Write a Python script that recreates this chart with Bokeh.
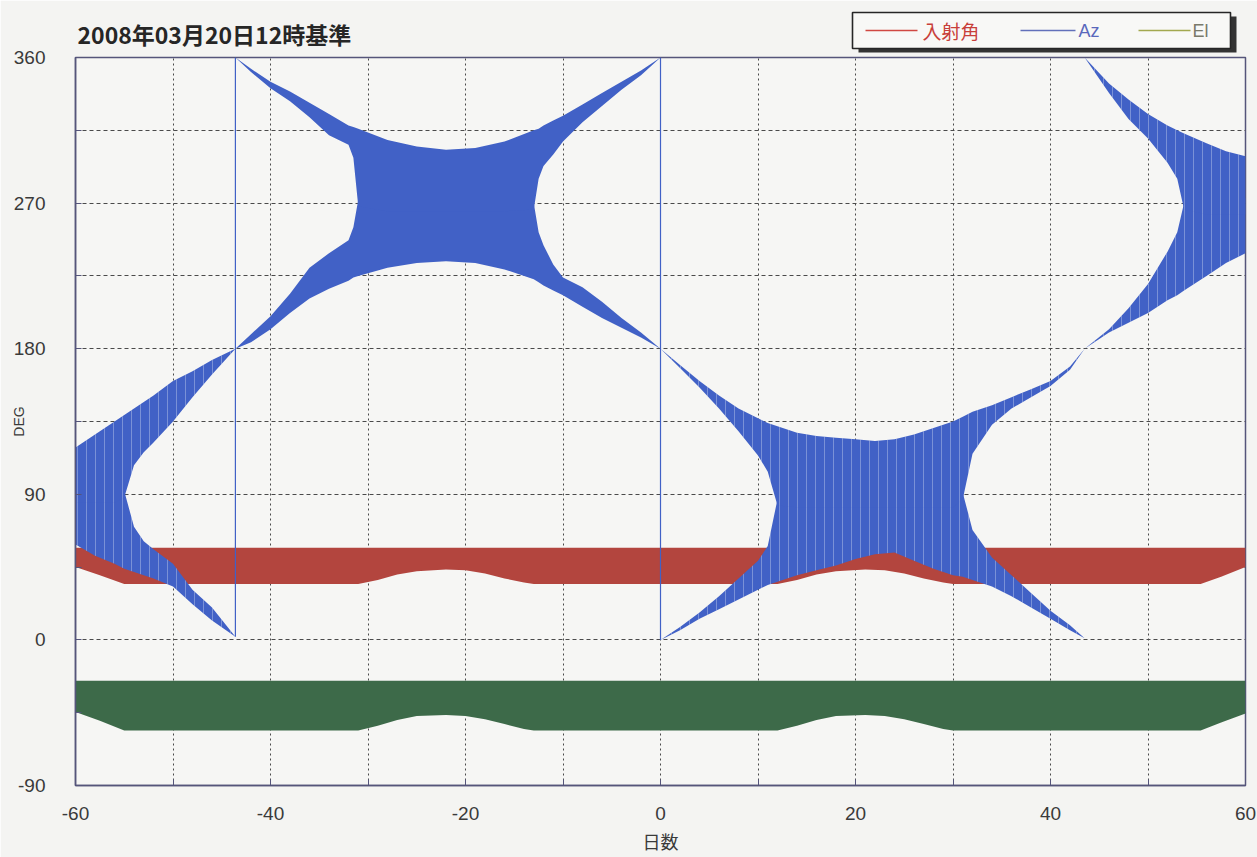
from bokeh.plotting import figure
from bokeh.models import FixedTicker, GridBox
from bokeh.core.properties import value
from bokeh.embed import file_html
from bokeh.resources import INLINE

# ---------------- data ----------------
title_text = "2008年03月20日12時基準"
legend_labels = ["入射角", "Az", "El"]

day_ticks = [-60, -40, -20, 0, 20, 40, 60]
day_minor = [-50, -30, -10, 10, 30, 50]
deg_ticks = [-90, 0, 90, 180, 270, 360]
deg_minor = [-45, 45, 135, 225, 315]

# 入射角 band (lower / upper envelope)
inc_x = [-60, -57.5, -55, -31, -29, -27, -25, -22, -20, -18, -16, -14, -13,
         12, 14, 16, 18, 21, 23, 25, 27, 29, 30, 55.4, 57.5, 60]
inc_lo = [45, 40, 34.5, 34.5, 37, 40.5, 42.5, 43.5, 43, 41, 38, 35.5, 34.5,
          34.5, 37, 40.5, 42.5, 43.5, 43, 41, 38, 35.5, 34.5, 34.5, 39, 45]
inc_hi = [57, 57, 57, 57, 57, 57, 57, 57, 57, 57, 57, 57, 57,
          57, 57, 57, 57, 57, 57, 57, 57, 57, 57, 57, 57, 57]

# El band
el_x = [-60, -57.5, -55, -31, -29, -27, -25, -22, -20, -18, -16, -14, -13,
        12, 14, 16, 18, 21, 23, 25, 27, 29, 30, 55.4, 57.5, 60]
el_lo = [-44.5, -50, -56, -56, -53, -49.5, -47, -46.4, -47, -49, -52, -55, -56,
         -56, -53, -49.5, -47, -46.4, -47, -49, -52, -55, -56, -56, -51, -45.5]
el_hi = [-25.3, -25.3, -25.3, -25.3, -25.3, -25.3, -25.3, -25.3, -25.3, -25.3, -25.3, -25.3, -25.3,
         -25.3, -25.3, -25.3, -25.3, -25.3, -25.3, -25.3, -25.3, -25.3, -25.3, -25.3, -25.3, -25.3]

# Az : envelope of the daily swing, four pieces between the 0/360 wraps
# lo = bottom of blue, lo_in = top of lower strand, hi_in = bottom of upper strand, hi = top
az1_x = [-60, -58, -56, -55, -54, -53, -52, -50, -48, -46, -43.6]
az1_lo = [59, 52, 47, 44, 42, 40, 38, 33, 22, 12, 2]
az1_lo_in = [95, 95, 95, 92, 70, 61, 56, 47, 31, 20, 2]
az1_hi_in = [85, 85, 85, 88, 108, 116, 122, 135, 150, 164, 180]
az1_hi = [119, 127, 135, 139, 143, 147, 151, 160, 166, 173, 180]

az2_x = [-43.6, -42, -40, -38, -36, -34, -32, -31.5, -31, -28, -25, -22, -19, -16,
         -13, -12.5, -12, -11, -10, -8, -6, -4, -2, 0]
az2_lo = [180, 184, 192, 202, 211, 217, 222, 224, 225, 230, 233, 234, 233, 229,
          223, 221, 219, 216, 213, 206, 199, 193, 187, 180]
az2_lo_in = [180, 189, 200, 214, 230, 239, 247, 255, 272, 275, 275, 275, 275, 275,
             270, 252, 244, 232, 224, 218, 209, 199, 190, 180]
az2_hi_in = [360, 351, 341, 333, 323, 312, 306, 298, 268, 265, 265, 265, 265, 265,
             266, 285, 293, 300, 308, 320, 330, 340, 349, 360]
az2_hi = [360, 353, 345, 339, 332, 325, 318, 317, 316, 309, 305, 303, 304, 308,
          315, 316, 318, 321, 324, 331, 338, 345, 352, 360]

az3_x = [0, 2, 4, 6, 8, 10, 11, 12, 14, 16, 18, 20, 22, 24, 26, 28, 30, 31,
         32, 34, 36, 38, 40, 42, 43.5]
az3_lo = [0, 6, 13, 19, 25, 31, 34, 36, 40, 43, 46, 50, 53, 54, 49, 44, 40, 39,
          37, 33, 27, 20, 13, 6, 1]
az3_lo_in = [0, 8, 17, 27, 38, 49, 58, 87, 92, 92, 92, 92, 92, 92, 92, 92, 92, 91,
             68, 51, 40, 29, 18, 9, 1]
az3_hi_in = [180, 168, 156, 143, 129, 114, 104, 83, 82, 82, 82, 82, 82, 82, 82, 82, 82, 87,
             115, 133, 143, 150, 157, 167, 180]
az3_hi = [180, 170, 160, 151, 143, 137, 134, 132, 128, 126, 125, 124, 123, 124, 127, 131, 135, 138,
          141, 145, 150, 155, 160, 169, 180]

az4_x = [43.5, 46, 48, 50, 52, 53, 53.7, 56, 58, 60]
az4_lo = [180, 190, 196, 202, 210, 213, 216, 225, 233, 239]
az4_lo_in = [180, 192, 205, 220, 240, 252, 270, 273, 273, 273]
az4_hi_in = [360, 338, 322, 310, 295, 285, 266, 263, 263, 263]
az4_hi = [360, 344, 334, 325, 318, 315, 313, 307, 302, 299]

# vertical connector strokes of Az at the wraps
az_wrap_x = [-43.6, 0]
az_wrap_lo = [2, 0]
az_wrap_hi = [360, 360]

# ---------------- styling ----------------
BLUE = "#4161c6"
RED = "#b3453e"
GREEN = "#3d6a49"
FRAME = "#55557a"
BG = "#f4f4f2"
TXT = "#3a3a3a"
W = 1257
H = 857
HEAD_H = 56

# ---------- main chart (whole page) ----------
p = figure(width=W, height=H, x_range=(-60, 60), y_range=(-90, 360),
           output_backend="svg", toolbar_location=None,
           min_border_left=75, min_border_right=12, min_border_top=57, min_border_bottom=72,
           background_fill_color="#f6f6f4", border_fill_color=BG)

p.outline_line_color = FRAME
p.outline_line_width = 1.5

p.xaxis.ticker = FixedTicker(ticks=day_ticks, minor_ticks=day_minor)
p.yaxis.ticker = FixedTicker(ticks=deg_ticks, minor_ticks=deg_minor)
p.xaxis.major_label_overrides = {-60: "-60", -40: "-40", -20: "-20"}
p.yaxis.major_label_overrides = {-90: "-90"}
p.xaxis.axis_label = "日数"
p.yaxis.axis_label = "DEG"
for ax in (p.xaxis, p.yaxis):
    ax.axis_line_color = FRAME
    ax.axis_line_width = 1.5
    ax.major_tick_line_color = FRAME
    ax.minor_tick_line_color = FRAME
    ax.major_tick_in = 6
    ax.major_tick_out = 0
    ax.minor_tick_in = 6
    ax.minor_tick_out = 0
    ax.major_label_text_font = "Liberation Sans"
    ax.major_label_text_font_size = "19px"
    ax.major_label_text_color = TXT
    ax.axis_label_text_font_style = "normal"
    ax.axis_label_text_color = TXT
p.xaxis.major_label_standoff = 21
p.xaxis.axis_label_standoff = 5
p.xaxis.axis_label_text_font = "Noto Sans CJK JP"
p.xaxis.axis_label_text_font_size = "18px"
p.yaxis.major_label_standoff = 30
p.yaxis.axis_label_standoff = -16
p.yaxis.axis_label_text_font = "Liberation Sans"
p.yaxis.axis_label_text_font_size = "14px"

p.xgrid.grid_line_color = "#4a4a4a"
p.xgrid.grid_line_dash = "2 3"
p.xgrid.minor_grid_line_color = "#4a4a4a"
p.xgrid.minor_grid_line_dash = "2 3"
p.ygrid.grid_line_color = "#4a4a4a"
p.ygrid.grid_line_dash = "4 3"
p.ygrid.minor_grid_line_color = "#4a4a4a"
p.ygrid.minor_grid_line_dash = "4 3"

p.varea(x=inc_x, y1=inc_lo, y2=inc_hi, fill_color=RED)
p.varea(x=el_x, y1=el_lo, y2=el_hi, fill_color=GREEN)

streaky = {"hatch_pattern": "|", "hatch_color": "white", "hatch_alpha": 0.3,
           "hatch_scale": 9, "hatch_weight": 1}
for xs, lo, lo_in, hi_in, hi, tex in (
        (az1_x, az1_lo, az1_lo_in, az1_hi_in, az1_hi, True),
        (az2_x, az2_lo, az2_lo_in, az2_hi_in, az2_hi, False),
        (az3_x, az3_lo, az3_lo_in, az3_hi_in, az3_hi, True),
        (az4_x, az4_lo, az4_lo_in, az4_hi_in, az4_hi, True)):
    extra = streaky if tex else {}
    p.varea(x=xs, y1=lo, y2=lo_in, fill_color=BLUE, **extra)
    p.varea(x=xs, y1=hi_in, y2=hi, fill_color=BLUE, **extra)

p.segment(x0=az_wrap_x, y0=az_wrap_lo, x1=az_wrap_x, y1=az_wrap_hi,
          line_color=BLUE, line_width=1.2)

# ---------- transparent header overlay: title + legend ----------
head = figure(width=W, height=HEAD_H, x_range=(0, W), y_range=(HEAD_H, 0),
              output_backend="svg", toolbar_location=None,
              x_axis_location=None, y_axis_location=None,
              min_border_left=0, min_border_right=0, min_border_top=0, min_border_bottom=0,
              background_fill_alpha=0, border_fill_alpha=0, outline_line_color=None)
head.grid.visible = False
head.frame_align = False

head.text(x=[77], y=[33], text=[title_text], text_font=value("Noto Sans CJK JP"),
          text_font_size="23px", text_font_style="bold", text_color="#262626",
          text_baseline="middle")

head.quad(left=[858], right=[1236], top=[16], bottom=[52], fill_color="#333333", line_color=None)
head.quad(left=[852], right=[1230], top=[12], bottom=[48], fill_color="#f8f8f6",
          line_color="#262626", line_width=1.6)
leg_line_x0 = [865, 1020, 1138]
leg_line_x1 = [917, 1075, 1190]
leg_line_col = ["#d04842", "#6270ba", "#a2a84e"]
head.segment(x0=leg_line_x0, y0=[30] * 3, x1=leg_line_x1, y1=[30] * 3,
             line_color=leg_line_col, line_width=1.3)
head.text(x=[922], y=[30], text=[legend_labels[0]], text_font=value("Noto Sans CJK JP"),
          text_font_size="19px", text_color="#c8403a", text_baseline="middle")
head.text(x=[1078, 1192], y=[30, 30], text=legend_labels[1:],
          text_font=value("Liberation Sans"), text_font_size="18px",
          text_color=["#5a68bc", "#7a7a6a"], text_baseline="middle")

page = GridBox(children=[(p, 0, 0), (head, 0, 0)], spacing=0)
open("out.html", "w").write(file_html(page, INLINE, title="plot"))
